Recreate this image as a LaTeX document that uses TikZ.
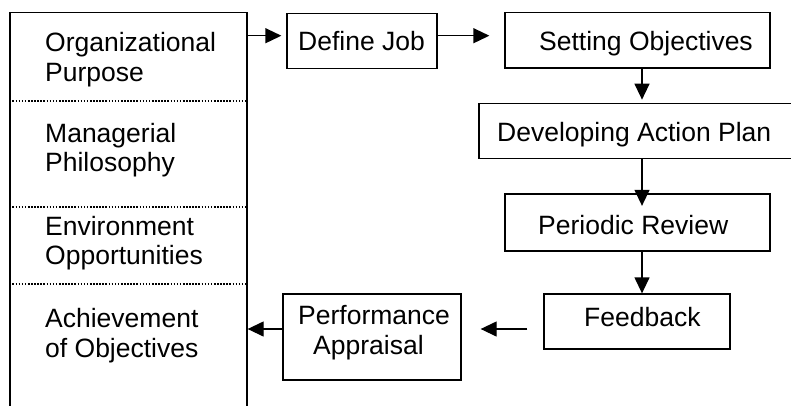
\documentclass[tikz,border=0pt]{standalone}
\usepackage{fontspec}
\setmainfont{Liberation Sans}
\usetikzlibrary{arrows.meta,calc}
\begin{document}
\begin{tikzpicture}[x=1pt,y=-1pt,
  box/.style={draw,line width=1.3pt,rectangle,inner sep=0pt},
  lbl/.style={inner sep=0pt,anchor=base west,align=left,font=\fontsize{26.5}{29.5}\selectfont},
  arr/.style={line width=1.3pt,-{Triangle[length=16pt,width=15pt]}},
  sep/.style={line width=2pt,dash pattern=on 1.6pt off 1.5pt}]
\useasboundingbox (0,0) rectangle (791,405);
% boxes
\node[box,minimum width=237pt,minimum height=407pt] (left) at (128.5,216.3) {};
\node[box,minimum width=150pt,minimum height=55pt] (dj) at (362,40.8) {};
\node[box,minimum width=265pt,minimum height=55.7pt] (so) at (637.5,40.2) {};
\node[box,minimum width=321pt,minimum height=55.2pt] (dap) at (639.5,130.9) {};
\node[box,minimum width=265pt,minimum height=57pt] (pr) at (637.5,222.5) {};
\node[box,minimum width=186pt,minimum height=55pt] (fb) at (637,321.5) {};
\node[box,minimum width=178pt,minimum height=86pt] (pa) at (372,337) {};
% dotted separators
\coordinate (s1) at (0,101);
\coordinate (s2) at (0,206.5);
\coordinate (s3) at (0,284);
\draw[sep] (left.west |- s1) -- (left.east |- s1);
\draw[sep] (left.west |- s2) -- (left.east |- s2);
\draw[sep] (left.west |- s3) -- (left.east |- s3);
% texts (anchored at the baseline of the last line)
\node[lbl] (t1) at (45,81) {Organizational\\Purpose};
\node[lbl] (t2) at (45,171.5) {Managerial\\Philosophy};
\node[lbl] (t3) at (45,264.5) {Environment\\Opportunities};
\node[lbl] (t4) at (45,357) {Achievement\\of Objectives};
\node[lbl] (tdj) at (298,50) {Define Job};
\node[lbl] (tso) at (539,50) {Setting Objectives};
\node[lbl] (tdap) at (497,141.7) {Developing Action Plan};
\node[lbl] (tpr) at (538,234) {Periodic Review};
\node[lbl] (tfb) at (584,326.7) {Feedback};
\node[lbl] (tpa) at (298,354) {Performance\\\hspace*{15pt}Appraisal};
% connectors
\coordinate (y1) at (0,35.7);
\coordinate (xa) at (642,0);
\coordinate (y2) at (0,329);
\draw[arr,shorten >=5pt] (left.east |- y1) -- (dj.west |- y1);
\draw[arr,shorten >=15pt] (dj.east |- y1) -- (so.west |- y1);
\draw[arr,shorten >=3pt] (so.south -| xa) -- (dap.north -| xa);
\draw[arr,shorten >=-12.5pt] (dap.south -| xa) -- (pr.north -| xa);
\draw[arr] (pr.south -| xa) -- (fb.north -| xa);
\draw[arr,shorten <=16pt,shorten >=19pt] (fb.west |- y2) -- (pa.east |- y2);
\draw[arr] (pa.west |- y2) -- (left.east |- y2);
\end{tikzpicture}
\end{document}
